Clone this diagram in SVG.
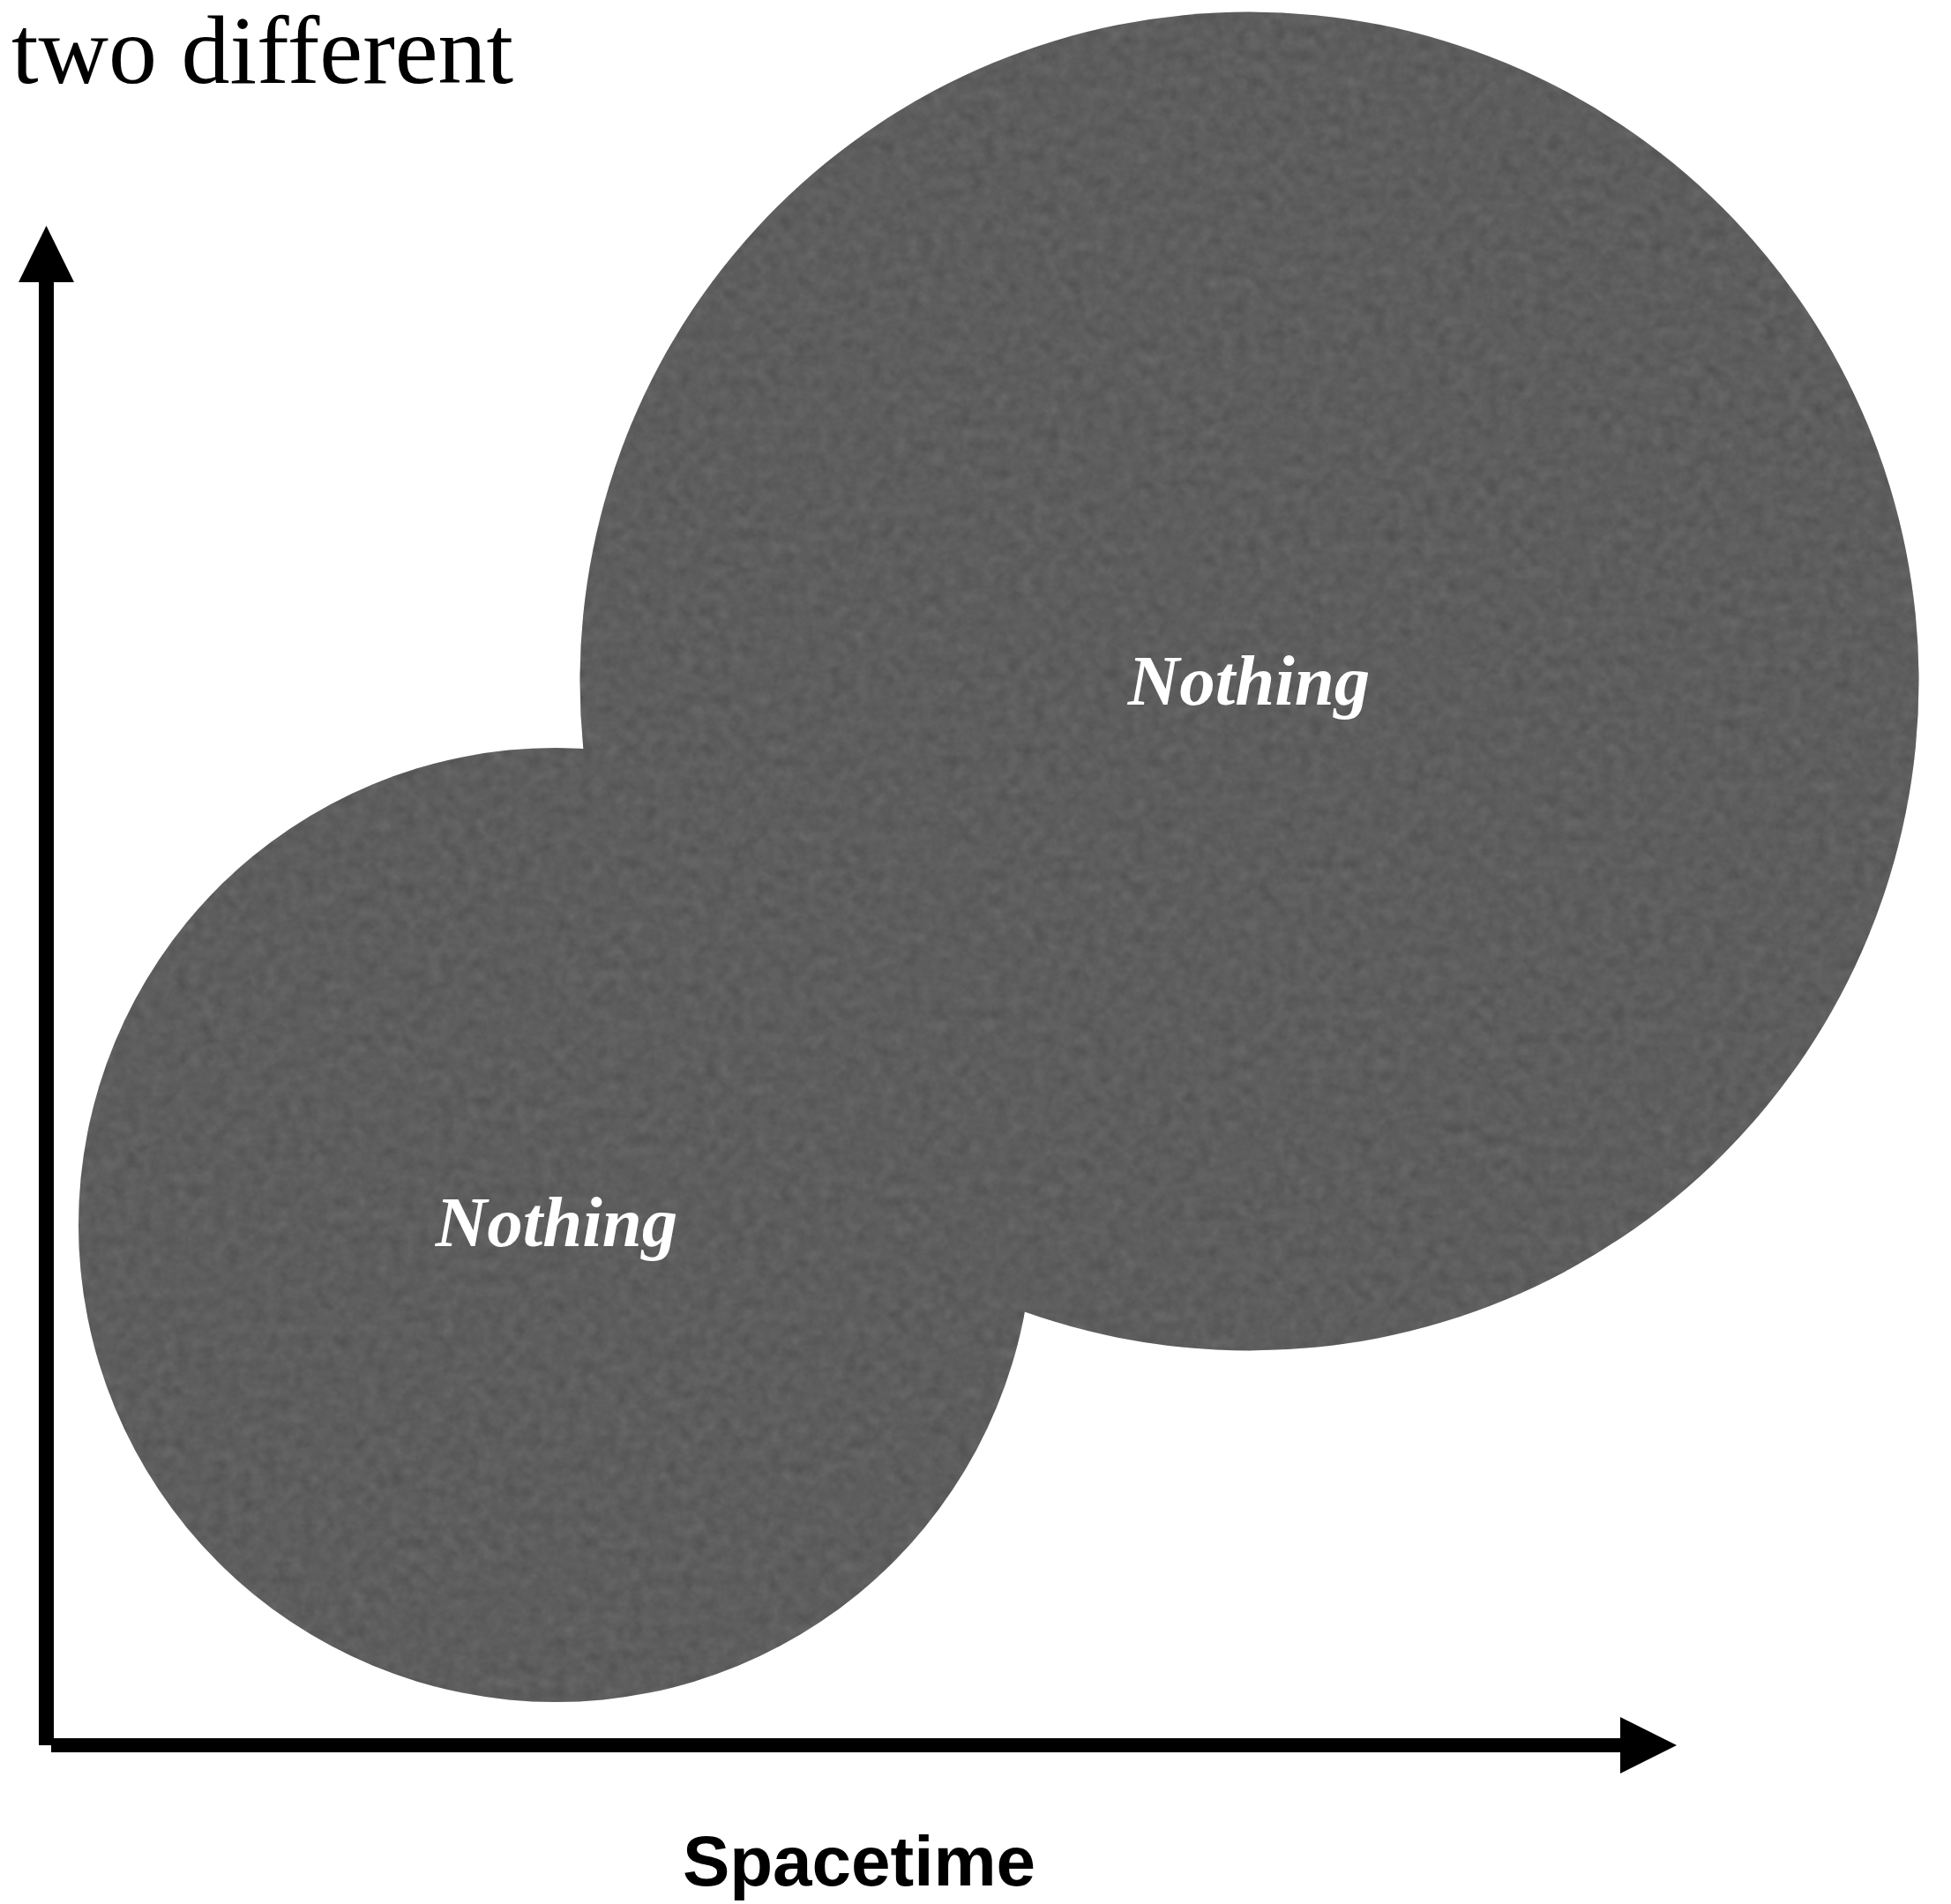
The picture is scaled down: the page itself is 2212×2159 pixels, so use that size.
<svg xmlns="http://www.w3.org/2000/svg" width="2212" height="2159" viewBox="0 0 2212 2159">
<style>
.blob{fill:#585858;filter:url(#grain)}
.lbl{font-family:"Liberation Serif","Times New Roman",serif;font-weight:bold;font-style:italic;font-size:81px;fill:#ffffff;text-anchor:middle}
.axis{fill:#000000}
</style>
<defs>
<filter id="grain" x="0" y="0" width="100%" height="100%" color-interpolation-filters="sRGB">
<feTurbulence type="fractalNoise" baseFrequency="0.07" numOctaves="3" seed="4" result="n"/>
<feColorMatrix in="n" type="matrix" values="0.33 0.33 0.33 0 0  0.33 0.33 0.33 0 0  0.33 0.33 0.33 0 0  0 0 0 0 0.16" result="g"/>
<feComposite in="g" in2="SourceGraphic" operator="in" result="gc"/>
<feMerge><feMergeNode in="SourceGraphic"/><feMergeNode in="gc"/></feMerge>
</filter>
</defs>
<rect width="2212" height="2159" fill="#ffffff"/>
<text x="13" y="94" font-family="'Liberation Serif','Times New Roman',serif" font-size="110" fill="#000000">two different</text>
<g id="nothing-large">
<circle class="blob" cx="1416.5" cy="772.5" r="759"/>
<text class="lbl" x="1416" y="799">Nothing</text>
</g>
<g id="nothing-small">
<circle class="blob" cx="630" cy="1389" r="541"/>
<text class="lbl" x="631" y="1413">Nothing</text>
</g>
<g id="axes">
<rect class="axis" x="44" y="318" width="17" height="1661"/>
<polygon class="axis" points="52.5,256 21,320 84,320"/>
<rect class="axis" x="58" y="1971" width="1780" height="16"/>
<polygon class="axis" points="1837,1947 1901,1979 1837,2011"/>
</g>
<text x="974" y="2138" font-family="'Liberation Sans',Arial,sans-serif" font-weight="bold" font-size="80" text-anchor="middle" fill="#000000">Spacetime</text>
</svg>
